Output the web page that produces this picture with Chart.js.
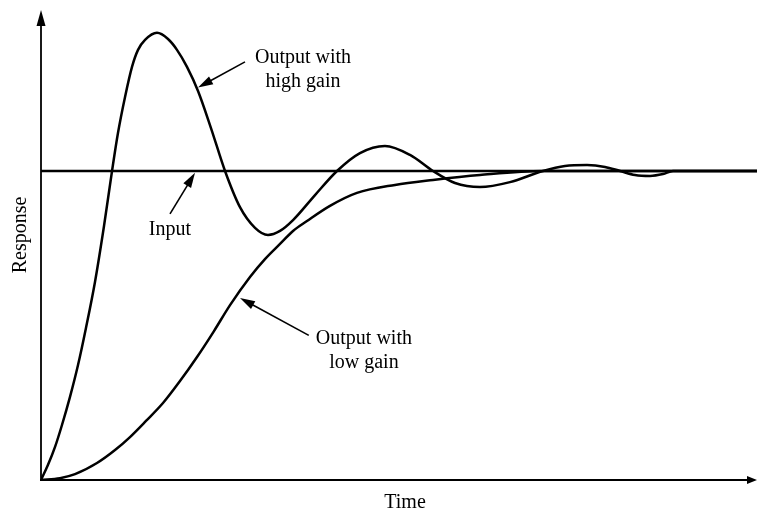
<!DOCTYPE html>
<html>
<head>
<meta charset="utf-8">
<script src="https://cdn.jsdelivr.net/npm/chart.js@4/dist/chart.umd.min.js"></script>
<style>
  html, body { margin: 0; padding: 0; background: #fff; }
  #wrap { width: 758px; height: 512px; }
</style>
</head>
<body>
<div id="wrap"><canvas id="c" width="758" height="512"></canvas></div>
<script>
// ---- data (time in arbitrary units 0..10, response relative to input = 1) ----
const inputTime = [0, 10];
const inputValue = [1, 1];

const highGainTime = [0, 0.098, 0.196, 0.293, 0.405, 0.517, 0.628, 0.754, 0.880, 0.992, 1.075, 1.173, 1.271, 1.355, 1.453, 1.620, 1.774, 1.899, 2.039, 2.193, 2.374, 2.570, 2.779, 2.989, 3.170, 3.338, 3.520, 3.827, 4.134, 4.455, 4.804, 5.154, 5.475, 5.782, 6.131, 6.550, 7.011, 7.318, 7.626, 7.877, 8.087, 8.296, 8.506, 8.687, 8.827, 10];
const highGainValue = [0, 0.049, 0.107, 0.178, 0.269, 0.372, 0.492, 0.641, 0.822, 1.0, 1.123, 1.239, 1.337, 1.392, 1.424, 1.447, 1.427, 1.392, 1.337, 1.259, 1.139, 1.0, 0.883, 0.816, 0.793, 0.806, 0.841, 0.922, 1.0, 1.058, 1.081, 1.052, 1.0, 0.961, 0.948, 0.964, 1.0, 1.016, 1.019, 1.013, 1.0, 0.987, 0.984, 0.990, 1.0, 1.0];

const lowGainTime = [0, 0.265, 0.475, 0.782, 1.034, 1.243, 1.466, 1.704, 1.941, 2.179, 2.416, 2.640, 2.919, 3.128, 3.338, 3.520, 3.715, 4.036, 4.413, 4.944, 5.475, 6.131, 7.011, 10];
const lowGainValue = [0, 0.006, 0.019, 0.055, 0.097, 0.139, 0.191, 0.249, 0.320, 0.398, 0.482, 0.566, 0.657, 0.715, 0.764, 0.806, 0.838, 0.887, 0.929, 0.955, 0.971, 0.987, 1.0, 1.0];

const xAxisTitle = 'Time';
const yAxisTitle = 'Response';

// annotation labels (anchored in data coordinates)
const annotations = [
  { lines: ['Output with', 'high gain'], textAt: [3.66, 1.327], tail: [2.849, 1.353], tip: [2.193, 1.270] },
  { lines: ['Input'], textAt: [1.80, 0.81], tail: [1.802, 0.861], tip: [2.151, 0.994] },
  { lines: ['Output with', 'low gain'], textAt: [4.51, 0.417], tail: [3.74, 0.468], tip: [2.779, 0.589] }
];

const toPts = (xs, ys) => xs.map((x, i) => ({ x: x, y: ys[i] }));

const FONT = '20px "Liberation Serif", "DejaVu Serif", serif';

function arrowHead(ctx, fx, fy, tx, ty, len, half) {
  const a = Math.atan2(ty - fy, tx - fx);
  ctx.beginPath();
  ctx.moveTo(tx, ty);
  ctx.lineTo(tx - len * Math.cos(a) + half * Math.sin(a), ty - len * Math.sin(a) - half * Math.cos(a));
  ctx.lineTo(tx - len * Math.cos(a) - half * Math.sin(a), ty - len * Math.sin(a) + half * Math.cos(a));
  ctx.closePath();
  ctx.fill();
}

const decor = {
  id: 'decor',
  beforeDraw(chart) {
    const ctx = chart.ctx;
    ctx.save();
    ctx.fillStyle = '#fff';
    ctx.fillRect(0, 0, chart.width, chart.height);
    ctx.restore();
  },
  afterDatasetsDraw(chart) {
    const ctx = chart.ctx;
    const xs = chart.scales.x, ys = chart.scales.y;
    const a = chart.chartArea;
    const x0 = xs.getPixelForValue(0), y0 = ys.getPixelForValue(0);
    ctx.save();
    ctx.strokeStyle = '#000';
    ctx.fillStyle = '#000';
    ctx.lineWidth = 1.8;
    // y axis
    ctx.beginPath();
    ctx.moveTo(x0, y0 + 1);
    ctx.lineTo(x0, a.top + 10);
    ctx.stroke();
    arrowHead(ctx, x0, y0, x0, a.top, 16, 4.5);
    // x axis
    ctx.beginPath();
    ctx.moveTo(x0 - 1, y0);
    ctx.lineTo(a.right - 6, y0);
    ctx.stroke();
    arrowHead(ctx, x0, y0, a.right, y0, 10, 4);

    // axis titles
    ctx.font = FONT;
    ctx.textAlign = 'center';
    ctx.textBaseline = 'middle';
    ctx.fillText(xAxisTitle, (x0 + a.right) / 2 + 6, y0 + 23);
    ctx.save();
    ctx.translate(21, 235);
    ctx.rotate(-Math.PI / 2);
    ctx.fillText(yAxisTitle, 0, 0);
    ctx.restore();

    // annotations
    ctx.lineWidth = 1.6;
    annotations.forEach(an => {
      const tx = xs.getPixelForValue(an.tail[0]), ty = ys.getPixelForValue(an.tail[1]);
      const px = xs.getPixelForValue(an.tip[0]), py = ys.getPixelForValue(an.tip[1]);
      const ang = Math.atan2(py - ty, px - tx);
      ctx.beginPath();
      ctx.moveTo(tx, ty);
      ctx.lineTo(px - 10 * Math.cos(ang), py - 10 * Math.sin(ang));
      ctx.stroke();
      arrowHead(ctx, tx, ty, px, py, 15, 4.5);
      const cx = xs.getPixelForValue(an.textAt[0]);
      const cy = ys.getPixelForValue(an.textAt[1]);
      const lh = 24;
      an.lines.forEach((t, i) => {
        ctx.fillText(t, cx, cy + (i - (an.lines.length - 1) / 2) * lh);
      });
    });
    ctx.restore();
  }
};

new Chart(document.getElementById('c'), {
  type: 'line',
  data: {
    datasets: [
      { label: 'Input', data: toPts(inputTime, inputValue), borderColor: '#000', borderWidth: 2.5, pointRadius: 0, fill: false },
      { label: 'Output with high gain', data: toPts(highGainTime, highGainValue), borderColor: '#000', borderWidth: 2.5, pointRadius: 0, fill: false, cubicInterpolationMode: 'monotone' },
      { label: 'Output with low gain', data: toPts(lowGainTime, lowGainValue), borderColor: '#000', borderWidth: 2.5, pointRadius: 0, fill: false, cubicInterpolationMode: 'monotone' }
    ]
  },
  options: {
    responsive: false,
    animation: false,
    events: [],
    layout: { padding: { left: 41, right: 1, top: 10, bottom: 32 } },
    plugins: { legend: { display: false }, tooltip: { enabled: false } },
    scales: {
      x: { type: 'linear', min: 0, max: 10, display: false },
      y: { type: 'linear', min: 0, max: 1.521, display: false }
    }
  },
  plugins: [decor]
});
</script>
</body>
</html>
